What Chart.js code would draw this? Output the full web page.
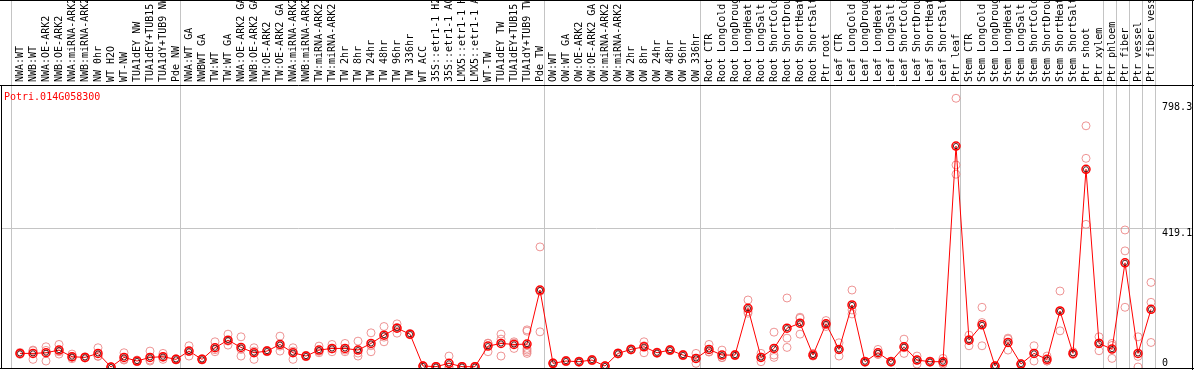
<!DOCTYPE html>
<html>
<head>
<meta charset="utf-8">
<script src="https://cdn.jsdelivr.net/npm/chart.js@4/dist/chart.umd.min.js"></script>
<style>
  body { margin: 0; background: #fff; }
  canvas { display: block; }
</style>
</head>
<body>
<canvas id="expr" width="1194" height="370"></canvas>
<script>
const geneId = 'Potri.014G058300';

const samples = [
  'NWA:WT', 'NWB:WT', 'NWA:OE-ARK2', 'NWB:OE-ARK2', 'NWA:miRNA-ARK2', 'NWB:miRNA-ARK2',
  'NW 0hr', 'WT H2O', 'WT-NW', 'TUA1dEY NW', 'TUA1dEY+TUB15 NW', 'TUA1dY+TUB9 NW', 'Pde NW',
  'NWA:WT GA', 'NWBWT GA', 'TW:WT', 'TW:WT GA', 'NWA:OE-ARK2 GA', 'NWB:OE-ARK2 GA',
  'TW:OE-ARK2', 'TW:OE-ARK2 GA', 'NWA:miRNA-ARK2 GA', 'NWB:miRNA-ARK2 GA', 'TW:miRNA-ARK2',
  'TW:miRNA-ARK2 GA', 'TW 2hr', 'TW 8hr', 'TW 24hr', 'TW 48hr', 'TW 96hr', 'TW 336hr',
  'WT ACC', '35S::etr1-1 H2O', '35S::etr1-1 ACC', 'LMX5::etr1-1 H2O', 'LMX5::etr1-1 ACC',
  'WT-TW', 'TUA1dEY TW', 'TUA1dEY+TUB15 TW', 'TUA1dY+TUB9 TW', 'Pde TW',
  'OW:WT', 'OW:WT GA', 'OW:OE-ARK2', 'OW:OE-ARK2 GA', 'OW:miRNA-ARK2', 'OW:miRNA-ARK2 GA',
  'OW 2hr', 'OW 8hr', 'OW 24hr', 'OW 48hr', 'OW 96hr', 'OW 336hr',
  'Root CTR', 'Root LongCold', 'Root LongDrought', 'Root LongHeat', 'Root LongSalt',
  'Root ShortCold', 'Root ShortDrought', 'Root ShortHeat', 'Root ShortSalt', 'Ptr root',
  'Leaf CTR', 'Leaf LongCold', 'Leaf LongDrought', 'Leaf LongHeat', 'Leaf LongSalt',
  'Leaf ShortCold', 'Leaf ShortDrought', 'Leaf ShortHeat', 'Leaf ShortSalt', 'Ptr leaf',
  'Stem CTR', 'Stem LongCold', 'Stem LongDrought', 'Stem LongHeat', 'Stem LongSalt',
  'Stem ShortCold', 'Stem ShortDrought', 'Stem ShortHeat', 'Stem ShortSalt', 'Ptr shoot',
  'Ptr xylem', 'Ptr phloem', 'Ptr fiber', 'Ptr vessel', 'Ptr fiber vessel'
];

// first sample index of every group (last entry closes the final group)
const groupStarts = [0, 13, 41, 53, 63, 73, 84, 85, 86, 87, 88];

const means = [
  41, 41, 43, 51, 31, 29, 41, 0, 29, 18, 29, 31, 23,
  48, 23, 58, 81, 59, 43, 48, 68, 43, 33, 51, 56, 56, 51, 71, 96, 117, 99,
  3, 1, 11, 1, 1, 63, 71, 68, 69, 232,
  11, 18, 16, 21, 3, 41, 53, 61, 43, 51, 36, 26,
  53, 36, 36, 177, 29, 56, 117, 132, 36, 130,
  53, 187, 16, 43, 16, 61, 21, 16, 16, 666,
  81, 127, 3, 74, 9, 41, 23, 169, 41, 596, 71,
  54, 314, 41, 174
];

const replicates = [
  [38, 41, 44], [51, 23, 49], [61, 18, 50], [68, 39, 46], [39, 29, 25], [27, 29, 31],
  [58, 33, 32], [0, 0, 0], [43, 23, 21], [21, 16, 17], [48, 18, 21], [41, 29, 23], [21, 23, 25],
  [64, 33, 47], [21, 23, 25], [76, 46, 52], [99, 66, 78], [91, 33, 53], [58, 23, 48],
  [46, 48, 50], [93, 48, 63], [58, 23, 48], [31, 33, 35], [63, 43, 47], [68, 46, 54],
  [71, 46, 51], [78, 33, 42], [103, 46, 64], [122, 76, 90], [130, 102, 119], [97, 99, 101],
  [3, 2, 4], [0, 1, 2], [33, 0, 0], [0, 1, 2], [0, 1, 2], [71, 46, 72], [99, 84, 33],
  [76, 56, 72], [112, 56, 51, 46, 41, 108], [362, 106, 228],
  [9, 11, 13], [16, 18, 20], [14, 16, 18], [19, 21, 23], [2, 3, 4], [39, 41, 43],
  [51, 53, 55], [76, 43, 64], [41, 43, 45], [49, 51, 53], [34, 36, 38], [41, 11, 26],
  [68, 45, 46], [51, 28, 29], [34, 36, 38], [202, 167, 162], [41, 16, 30], [105, 36, 29],
  [208, 87, 59], [147, 99, 150], [41, 33, 34], [140, 122, 128],
  [73, 33, 53], [232, 172, 160], [14, 16, 18], [53, 38, 38], [14, 16, 18], [84, 41, 58],
  [33, 9, 21], [14, 16, 18], [26, 9, 13], [810, 609, 581],
  [96, 64, 83], [180, 134, 64], [2, 3, 4], [87, 51, 84], [8, 9, 10], [64, 18, 41],
  [33, 18, 18], [229, 109, 169], [46, 38, 39], [727, 629, 430], [91, 49, 73],
  [71, 26, 65], [413, 350, 180], [91, 0, 32], [255, 195, 74]
];

const yTicks = [0, 419.1, 798.3];

const meanPoints = means.map((v, i) => ({ x: i, y: v }));
const repPoints = [];
replicates.forEach((arr, i) => arr.forEach(v => repPoints.push({ x: i, y: v })));

const mono = '10px "DejaVu Sans Mono", "Liberation Mono", monospace';

const overlay = {
  id: 'overlay',
  beforeDatasetsDraw(chart) {
    const { ctx, chartArea: a, scales: { x, y } } = chart;
    ctx.save();
    ctx.strokeStyle = '#c4c4c4';
    ctx.lineWidth = 1;
    groupStarts.forEach(b => {
      const px = Math.round(x.getPixelForValue(b - 0.7)) + 0.5;
      ctx.beginPath();
      ctx.moveTo(px, 0);
      ctx.lineTo(px, a.bottom);
      ctx.stroke();
    });
    const gy = Math.round(y.getPixelForValue(yTicks[1])) + 0.5;
    ctx.beginPath();
    ctx.moveTo(a.left, gy);
    ctx.lineTo(a.right, gy);
    ctx.stroke();
    ctx.restore();
  },
  afterDraw(chart) {
    const { ctx, chartArea: a, scales: { x, y } } = chart;
    ctx.save();
    // frame
    ctx.strokeStyle = '#000';
    ctx.lineWidth = 1;
    ctx.beginPath();
    ctx.moveTo(0, 0.5); ctx.lineTo(chart.width, 0.5);
    ctx.moveTo(0, a.top + 0.5); ctx.lineTo(chart.width, a.top + 0.5);
    ctx.moveTo(0, a.bottom + 0.5); ctx.lineTo(chart.width, a.bottom + 0.5);
    ctx.moveTo(a.left + 0.5, a.top); ctx.lineTo(a.left + 0.5, a.bottom);
    ctx.moveTo(a.right + 0.5, 0); ctx.lineTo(a.right + 0.5, chart.height);
    ctx.stroke();

    // sample names, rotated
    ctx.font = mono;
    ctx.fillStyle = '#000';
    ctx.textAlign = 'left';
    ctx.textBaseline = 'middle';
    samples.forEach((s, i) => {
      ctx.save();
      ctx.translate(Math.round(x.getPixelForValue(i)), a.top - 3);
      ctx.rotate(-Math.PI / 2);
      ctx.fillText(s, 0, 0);
      ctx.restore();
    });

    // y tick labels inside the plot, on the right
    ctx.textBaseline = 'top';
    yTicks.forEach(t => {
      const py = Math.min(y.getPixelForValue(t), a.bottom - 10);
      ctx.fillText(String(t), x.getPixelForValue(87.85), py);
    });

    // gene id
    ctx.fillStyle = '#ff0000';
    ctx.textBaseline = 'middle';
    ctx.fillText(geneId, 4, a.top + 12);
    ctx.restore();
  }
};

new Chart(document.getElementById('expr'), {
  type: 'scatter',
  data: {
    datasets: [
      {
        label: 'replicates',
        data: repPoints,
        showLine: false,
        pointRadius: 4,
        pointBorderWidth: 1,
        pointBorderColor: 'rgba(235, 130, 130, 0.85)',
        pointBackgroundColor: 'rgba(0,0,0,0)',
        order: 3
      },
      {
        label: 'mean',
        data: meanPoints,
        showLine: true,
        borderColor: '#ff0000',
        borderWidth: 1,
        pointRadius: 4,
        pointBorderWidth: 1.5,
        pointBorderColor: '#ff0000',
        pointBackgroundColor: 'rgba(0,0,0,0)',
        order: 2
      },
      {
        label: 'mean core',
        data: meanPoints,
        showLine: false,
        pointRadius: 2.6,
        pointBorderWidth: 1,
        pointBorderColor: 'rgba(60, 0, 0, 0.85)',
        pointBackgroundColor: 'rgba(0,0,0,0)',
        order: 1
      }
    ]
  },
  options: {
    responsive: false,
    animation: false,
    devicePixelRatio: 1,
    layout: { autoPadding: false, padding: { left: 1, right: 2, top: 85, bottom: 2 } },
    plugins: { legend: { display: false }, tooltip: { enabled: false } },
    scales: {
      x: { type: 'linear', display: false, min: -19 / 13, max: -19 / 13 + 1191 / 13 },
      y: { type: 'linear', display: false, min: -3, max: 850 }
    }
  },
  plugins: [overlay]
});
</script>
</body>
</html>
